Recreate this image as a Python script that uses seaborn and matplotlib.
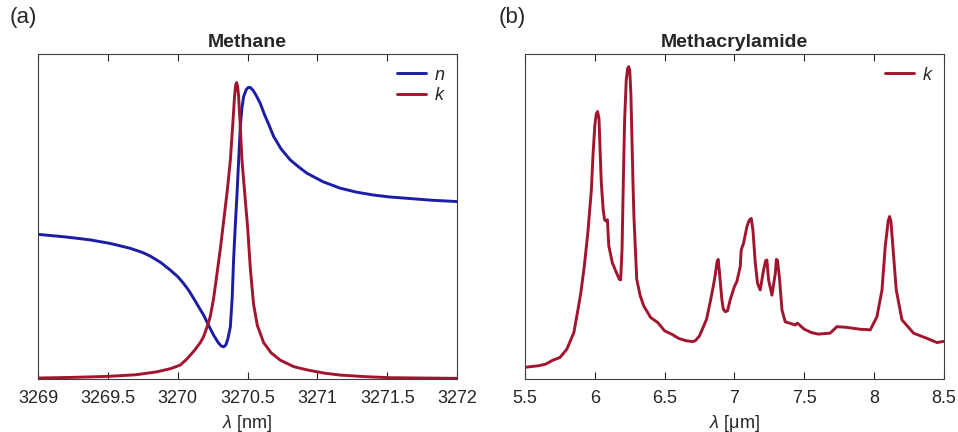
import numpy as np
import pandas as pd
import seaborn as sns
import matplotlib.pyplot as plt

# Methane (a): wavelength in nm, n and k in arbitrary units
methane_wl_n = [3269.0, 3269.2, 3269.374, 3269.518, 3269.661, 3269.75, 3269.804, 3269.88,
                3269.947, 3270.0, 3270.042, 3270.08, 3270.114, 3270.15, 3270.185, 3270.22,
                3270.257, 3270.29, 3270.31, 3270.329, 3270.345, 3270.36, 3270.377, 3270.39,
                3270.40, 3270.412, 3270.425, 3270.437, 3270.448, 3270.46, 3270.472, 3270.49,
                3270.505, 3270.52, 3270.54, 3270.565, 3270.591, 3270.62, 3270.65, 3270.687,
                3270.74, 3270.806, 3270.87, 3270.926, 3271.04, 3271.164, 3271.28, 3271.402,
                3271.52, 3271.641, 3271.82, 3272.0]
methane_n = [0.445, 0.437, 0.428, 0.417, 0.402, 0.389, 0.378, 0.358,
             0.335, 0.315, 0.294, 0.272, 0.248, 0.222, 0.197, 0.166,
             0.135, 0.112, 0.102, 0.099, 0.105, 0.125, 0.161, 0.250,
             0.366, 0.470, 0.572, 0.680, 0.776, 0.835, 0.869, 0.890,
             0.897, 0.897, 0.888, 0.870, 0.848, 0.815, 0.785, 0.746,
             0.708, 0.674, 0.651, 0.633, 0.607, 0.587, 0.575, 0.566,
             0.560, 0.556, 0.550, 0.546]

methane_wl_k = [3269.0, 3269.25, 3269.5, 3269.7, 3269.85, 3269.95, 3270.019, 3270.067,
                3270.12, 3270.162, 3270.185, 3270.21, 3270.233, 3270.257, 3270.28, 3270.305,
                3270.33, 3270.355, 3270.377, 3270.393, 3270.407, 3270.415, 3270.422, 3270.429,
                3270.436, 3270.448, 3270.46, 3270.472, 3270.486, 3270.50, 3270.52, 3270.543,
                3270.57, 3270.615, 3270.67, 3270.734, 3270.83, 3270.926, 3271.05, 3271.164,
                3271.35, 3271.522, 3271.75, 3272.0]
methane_k = [0.003, 0.005, 0.008, 0.013, 0.022, 0.032, 0.043, 0.062,
             0.088, 0.112, 0.130, 0.160, 0.192, 0.248, 0.320, 0.400,
             0.490, 0.580, 0.674, 0.776, 0.870, 0.905, 0.912, 0.900,
             0.870, 0.776, 0.674, 0.612, 0.540, 0.470, 0.340, 0.230,
             0.165, 0.112, 0.080, 0.058, 0.038, 0.028, 0.018, 0.012,
             0.007, 0.004, 0.003, 0.002]

# Methacrylamide (b): wavelength in um, k in arbitrary units
meth_wl = [5.5, 5.6, 5.65, 5.7, 5.75, 5.8, 5.85, 5.88, 5.9, 5.925, 5.95, 5.975, 5.987,
           6.0, 6.01, 6.02, 6.03, 6.039, 6.046, 6.06, 6.07, 6.08, 6.09, 6.1, 6.125,
           6.15, 6.175, 6.185, 6.195, 6.204, 6.213, 6.225, 6.235, 6.242, 6.25, 6.258,
           6.263, 6.273, 6.28, 6.3, 6.325, 6.35, 6.4, 6.45, 6.5, 6.55, 6.6, 6.65, 6.7,
           6.72, 6.75, 6.8, 6.83, 6.85, 6.862, 6.875, 6.883, 6.892, 6.9, 6.91, 6.92,
           6.934, 6.95, 6.97, 7.0, 7.017, 7.041, 7.048, 7.065, 7.089, 7.105, 7.12, 7.132,
           7.149, 7.165, 7.184, 7.208, 7.223, 7.232, 7.244, 7.268, 7.292, 7.3, 7.308,
           7.323, 7.34, 7.363, 7.4, 7.435, 7.45, 7.5, 7.55, 7.6, 7.65, 7.685, 7.733,
           7.8, 7.85, 7.9, 7.95, 7.972, 8.02, 8.056, 8.079, 8.1, 8.11, 8.12, 8.134,
           8.158, 8.199, 8.282, 8.378, 8.45, 8.5]
meth_k = [0.036, 0.041, 0.046, 0.058, 0.066, 0.092, 0.143, 0.215, 0.266, 0.348, 0.450,
          0.580, 0.689, 0.780, 0.815, 0.823, 0.800, 0.689, 0.607, 0.520, 0.490, 0.486,
          0.490, 0.410, 0.358, 0.332, 0.307, 0.305, 0.400, 0.607, 0.792, 0.920, 0.955,
          0.961, 0.950, 0.880, 0.792, 0.607, 0.500, 0.307, 0.256, 0.225, 0.189, 0.174,
          0.148, 0.138, 0.125, 0.118, 0.115, 0.118, 0.133, 0.184, 0.245, 0.290, 0.320,
          0.360, 0.368, 0.330, 0.290, 0.243, 0.215, 0.207, 0.210, 0.245, 0.285, 0.300,
          0.346, 0.397, 0.418, 0.469, 0.488, 0.494, 0.458, 0.356, 0.294, 0.274, 0.335,
          0.364, 0.366, 0.305, 0.258, 0.325, 0.368, 0.365, 0.305, 0.212, 0.176, 0.171,
          0.166, 0.172, 0.153, 0.143, 0.138, 0.140, 0.141, 0.161, 0.159, 0.156, 0.153,
          0.152, 0.151, 0.192, 0.274, 0.407, 0.485, 0.500, 0.485, 0.407, 0.274, 0.182,
          0.141, 0.125, 0.112, 0.116]

blue = "#1c1ca6"
red = "#a3142f"

sns.set_style("white")
plt.rcParams["font.family"] = ["Liberation Sans", "DejaVu Sans"]
plt.rcParams["mathtext.fontset"] = "custom"
plt.rcParams["mathtext.it"] = "Liberation Sans:italic"
plt.rcParams["mathtext.rm"] = "Liberation Sans"

fig = plt.figure(figsize=(9.58, 4.32), dpi=100)
ax1 = fig.add_axes([0.0397, 0.1227, 0.4374, 0.7523])
ax2 = fig.add_axes([0.548, 0.1227, 0.4374, 0.7523])

df_n = pd.DataFrame({"wl": methane_wl_n, "val": methane_n})
df_k = pd.DataFrame({"wl": methane_wl_k, "val": methane_k})
sns.lineplot(data=df_n, x="wl", y="val", ax=ax1, color=blue, lw=2.1, label="n")
sns.lineplot(data=df_k, x="wl", y="val", ax=ax1, color=red, lw=2.1, label="k")

df_m = pd.DataFrame({"wl": meth_wl, "val": meth_k})
sns.lineplot(data=df_m, x="wl", y="val", ax=ax2, color=red, lw=2.1, label="k")

panels = [
    (ax1, "Methane", r"$\lambda$ [nm]", (3269, 3272), [3269, 3269.5, 3270, 3270.5, 3271, 3271.5, 3272],
     ["3269", "3269.5", "3270", "3270.5", "3271", "3271.5", "3272"], "(a)", -0.067),
    (ax2, "Methacrylamide", r"$\lambda$ [μm]", (5.5, 8.5), [5.5, 6, 6.5, 7, 7.5, 8, 8.5],
     ["5.5", "6", "6.5", "7", "7.5", "8", "8.5"], "(b)", -0.064),
]
for ax, title, xlabel, xlim, ticks, ticklabels, tag, tag_x in panels:
    ax.set_xlim(*xlim)
    ax.set_ylim(0, 1)
    ax.set_xticks(ticks)
    ax.set_xticklabels(ticklabels)
    ax.set_yticks([])
    ax.set_ylabel("")
    ax.set_xlabel(xlabel, fontsize=13, labelpad=4)
    ax.set_title(title, fontsize=14, fontweight="bold", pad=5)
    ax.tick_params(axis="x", direction="in", length=5, width=0.8, top=True,
                   bottom=True, labelsize=13, pad=8, colors="#262626")
    for s in ax.spines.values():
        s.set_color("#404040")
        s.set_linewidth(0.8)
    ax.legend(loc="upper right", frameon=False, handlelength=1.6, handletextpad=0.45,
              labelspacing=0.2, borderaxespad=0.3, prop={"style": "italic", "size": 13})
    ax.text(tag_x, 1.111, tag, transform=ax.transAxes, fontsize=16, va="center", ha="left")

fig.savefig("out.png", dpi=100)
